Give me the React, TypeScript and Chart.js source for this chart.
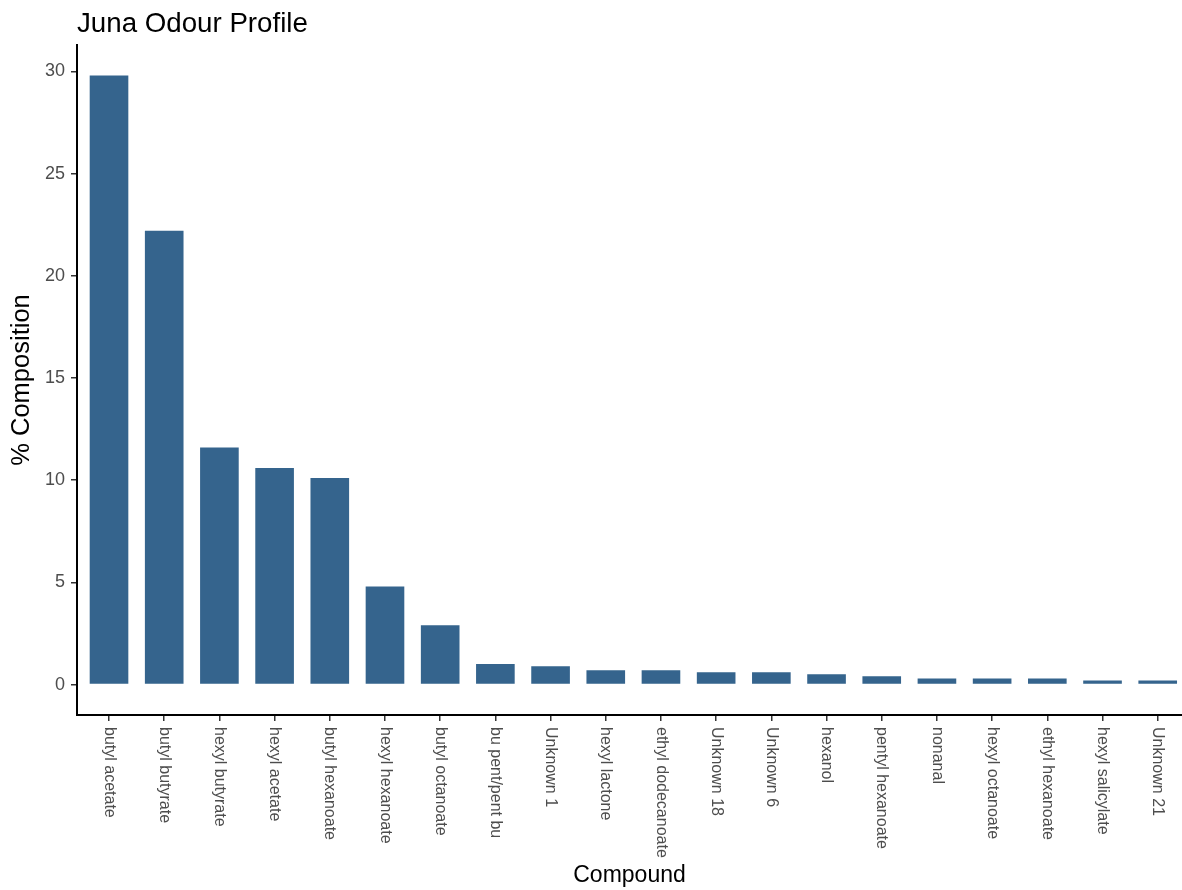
import React, { useEffect, useRef } from "react";
import { Chart, registerables } from "chart.js";

Chart.register(...registerables);

const categories: string[] = [
  "butyl acetate",
  "butyl butyrate",
  "hexyl butyrate",
  "hexyl acetate",
  "butyl hexanoate",
  "hexyl hexanoate",
  "butyl octanoate",
  "bu pent/pent bu",
  "Unknown 1",
  "hexyl lactone",
  "ethyl dodecanoate",
  "Unknown 18",
  "Unknown 6",
  "hexanol",
  "pentyl hexanoate",
  "nonanal",
  "hexyl octanoate",
  "ethyl hexanoate",
  "hexyl salicylate",
  "Unknown 21",
];

const composition: number[] = [
  29.8, 22.2, 11.6, 10.6, 10.1, 4.8, 2.9, 1.0, 0.9, 0.7, 0.7, 0.6, 0.6, 0.5, 0.4,
  0.3, 0.3, 0.3, 0.2, 0.2,
];

const yTicks: number[] = [0, 5, 10, 15, 20, 25, 30];

const chartTitle = "Juna Odour Profile";
const xTitle = "Compound";
const yTitle = "% Composition";

const FONT = "'Liberation Sans', Arial, Helvetica, sans-serif";

export default function App() {
  const canvasRef = useRef<HTMLCanvasElement | null>(null);

  useEffect(() => {
    const canvas = canvasRef.current;
    if (!canvas) return;

    const yMax = Math.max(...composition);
    const expand = yMax * 0.05;

    const labelPlugin = {
      id: "customText",
      afterDraw(chart: any) {
        const { ctx, chartArea } = chart;
        const xs = chart.scales.x;
        ctx.save();
        // title
        ctx.fillStyle = "#000000";
        ctx.font = `27.7px ${FONT}`;
        ctx.textAlign = "left";
        ctx.textBaseline = "alphabetic";
        ctx.fillText(chartTitle, chartArea.left, 32);
        // rotated x tick labels (top to bottom)
        ctx.fillStyle = "#4d4d4d";
        ctx.font = `16px ${FONT}`;
        categories.forEach((c, i) => {
          const x = xs.getPixelForValue(i);
          ctx.save();
          ctx.translate(x, chartArea.bottom + 12);
          ctx.rotate(Math.PI / 2);
          ctx.textAlign = "left";
          ctx.textBaseline = "middle";
          ctx.fillText(c, 0, 0);
          ctx.restore();
        });
        ctx.restore();
      },
    };

    const chart = new Chart(canvas, {
      type: "bar",
      data: {
        datasets: [
          {
            label: yTitle,
            data: composition.map((v, i) => ({ x: i, y: v })),
            backgroundColor: "#35648d",
            borderWidth: 0,
            barPercentage: 0.7,
            categoryPercentage: 1,
          },
        ],
      },
      options: {
        responsive: false,
        animation: false,
        layout: { padding: { top: 45, left: 0, right: 0, bottom: 0 } },
        plugins: {
          legend: { display: false },
          title: { display: false },
          tooltip: { enabled: false },
        },
        scales: {
          x: {
            type: "linear",
            offset: false,
            min: -0.58,
            max: 19.44,
            afterFit: (scale: any) => {
              scale.height = 175;
            },
            afterBuildTicks: (scale: any) => {
              scale.ticks = categories.map((_, i) => ({ value: i }));
            },
            ticks: { display: false },
            grid: {
              offset: false,
              drawOnChartArea: false,
              drawTicks: true,
              tickLength: 6,
              color: "#333333",
              lineWidth: 1.5,
            },
            border: { display: true, color: "#000000", width: 2 },
            title: {
              display: true,
              text: xTitle,
              color: "#000000",
              font: { family: FONT, size: 23 },
              padding: { top: 0, bottom: 1 },
            },
          },
          y: {
            min: -expand,
            max: yMax + expand,
            afterFit: (scale: any) => {
              scale.width = 77;
            },
            afterBuildTicks: (scale: any) => {
              scale.ticks = yTicks.map((v) => ({ value: v }));
            },
            ticks: {
              color: "#4d4d4d",
              font: { family: FONT, size: 18 },
              padding: 6,
            },
            grid: {
              drawOnChartArea: false,
              drawTicks: true,
              tickLength: 6,
              color: "#333333",
              lineWidth: 1.5,
            },
            border: { display: true, color: "#000000", width: 2 },
            title: {
              display: true,
              text: yTitle,
              color: "#000000",
              font: { family: FONT, size: 25.5 },
              padding: { top: 7, bottom: 0 },
            },
          },
        },
      },
      plugins: [labelPlugin],
    } as any);

    return () => chart.destroy();
  }, []);

  return (
    <canvas
      ref={canvasRef}
      width={1182}
      height={890}
      style={{ position: "absolute", left: 0, top: 0, width: 1182, height: 890 }}
    />
  );
}
